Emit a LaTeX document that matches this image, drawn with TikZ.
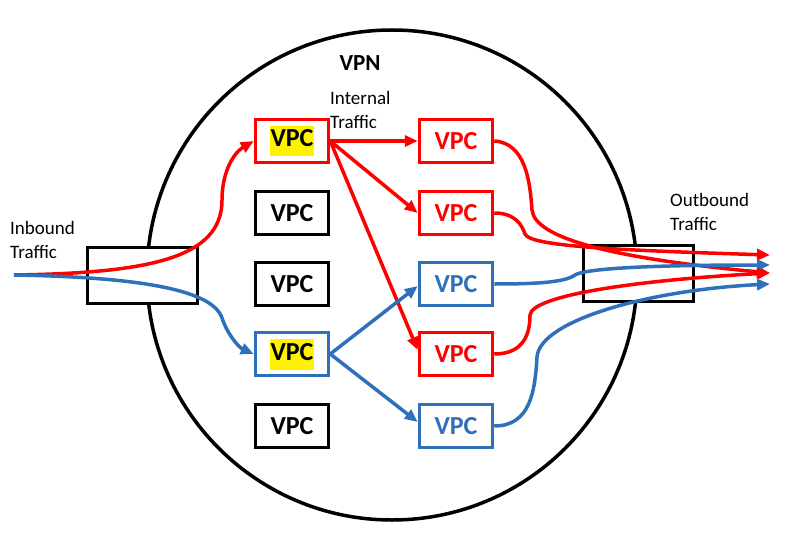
\documentclass[tikz,border=0pt]{standalone}
\usepackage{fontspec}
\setmainfont{Carlito}
\usetikzlibrary{arrows.meta, positioning}
\definecolor{vred}{RGB}{255,0,0}
\definecolor{vblue}{RGB}{46,112,186}
\newcommand{\hlt}[1]{{\setlength{\fboxsep}{0.5pt}\colorbox{yellow}{\strut #1}}}
\tikzset{
  vpc/.style={draw, line width=3.5pt, fill=white, minimum width=73pt, minimum height=43pt, inner sep=0pt, font=\fontsize{26}{30}\selectfont\bfseries},
  gate/.style={draw, line width=3pt, fill=white, minimum width=110pt, minimum height=56pt},
  flow/.style={line width=3.5pt, -{Triangle[length=13pt,width=11pt]}},
  lbl/.style={anchor=west, align=left, inner sep=0pt, font=\fontsize{19}{24}\selectfont},
}

\begin{document}
\begin{tikzpicture}[x=1pt, y=-1pt]
\useasboundingbox (0,0) rectangle (792,540);

\node[draw, circle, line width=3.5pt, minimum size=490pt, inner sep=0pt](vpn) at (392,275) {};
\node[font=\fontsize{23}{26}\selectfont\bfseries](title) at (360,63) {VPN};
\node[lbl](internal) at (330,110) {Internal\\Traffic};
\node[lbl](inlbl) at (10,240) {Inbound\\Traffic};
\node[lbl](outlbl) at (670,212) {Outbound\\Traffic};

\node[gate](inb) at (142,275) {};
\node[gate](outb) at (638,273) {};

\node[vpc, draw=vred](A1) at (292,141) {\hlt{VPC}};
\node[vpc](A2) at (292,213) {VPC};
\node[vpc](A3) at (292,284) {VPC};
\node[vpc, draw=vblue](A4) at (292,354) {\hlt{VPC}};
\node[vpc](A5) at (292,426) {VPC};

\node[vpc, draw=vred, text=vred](B1) at (456,141) {VPC};
\node[vpc, draw=vred, text=vred](B2) at (456,213) {VPC};
\node[vpc, draw=vblue, text=vblue](B3) at (456,284) {VPC};
\node[vpc, draw=vred, text=vred](B4) at (456,354) {VPC};
\node[vpc, draw=vblue, text=vblue](B5) at (456,426) {VPC};

\coordinate (src) at (14,275);
\coordinate (o1) at (770,255);
\coordinate (o2) at (770,265);
\coordinate (o3) at (770,273);
\coordinate (o4) at (770,284);

% inbound
\draw[flow, vred] (src) .. controls (150,273) and (222,258) .. (222,200) .. controls (222,170) and (235,152) .. (A1.west);
\draw[flow, vblue] (src) .. controls (130,277) and (212,288) .. (222,318) .. controls (228,336) and (240,348) .. (A4.west);

% internal
\draw[flow, vred] (A1.east) -- (B1.west);
\draw[flow, vred] (A1.east) -- (B2.west);
\draw[flow, vred] (A1.east) -- ([yshift=4pt]B4.west);
\draw[flow, vblue] (A4.east) -- ([yshift=-2pt]B3.west);
\draw[flow, vblue] (A4.east) -- ([yshift=4pt]B5.west);

% outbound
\draw[flow, vred] (B1.east) .. controls (525,143) and (530,180) .. (532,210) .. controls (535,238) and (610,258) .. (o3);
\draw[flow, vred] (B2.east) .. controls (515,213) and (522,225) .. (525,234) .. controls (530,246) and (610,250) .. (o1);
\draw[flow, vblue] (B3.east) .. controls (540,284) and (565,282) .. (575,275) .. controls (590,266) and (700,265) .. (o2);
\draw[flow, vred] (B4.east) .. controls (525,354) and (530,332) .. (530,315) .. controls (532,295) and (640,280) .. (o3);
\draw[flow, vblue] (B5.east) .. controls (530,426) and (535,392) .. (537,357) .. controls (540,320) and (650,290) .. (o4);
\end{tikzpicture}
\end{document}
